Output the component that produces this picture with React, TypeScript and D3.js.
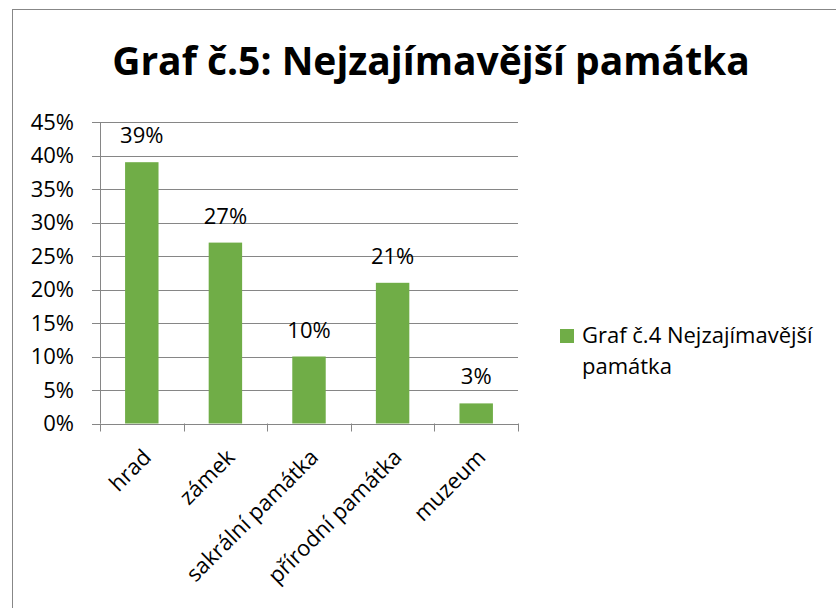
import React from 'react';
import * as d3 from 'd3';

const categories = ['hrad', 'zámek', 'sakrální památka', 'přírodní památka', 'muzeum'];
const values = [39, 27, 10, 21, 3];
const yTicks = [0, 5, 10, 15, 20, 25, 30, 35, 40, 45];
const title = 'Graf č.5: Nejzajímavější památka';
const seriesName = ['Graf č.4 Nejzajímavější', 'památka'];

const App = () => {
  const width = 836;
  const height = 608;
  const font = '"Open Sans", "Noto Sans", sans-serif';
  const green = '#70AD47';
  const grid = '#868686';

  // plot area
  const left = 100;
  const right = 518;
  const top = 122;
  const bottom = 423.5;

  const x = d3.scaleBand<string>()
    .domain(categories)
    .range([left, right])
    .paddingInner(0.6)
    .paddingOuter(0.3);

  const y = d3.scaleLinear().domain([0, 45]).range([bottom, top]);

  const step = x.step();
  const bw = x.bandwidth();
  const boundary = (i: number) => left + i * step;

  return (
    <svg width={width} height={height} style={{ position: 'absolute', left: 0, top: 0, background: '#fff' }}>
      <rect x={12.5} y={9.5} width={840} height={620} fill="#fff" stroke="#878787" strokeWidth={1} />

      <text x={431} y={75} textAnchor="middle" fontFamily={font} fontWeight="bold" fontSize={39} fill="#000">
        {title}
      </text>

      {/* gridlines + y labels */}
      {yTicks.map(t => (
        <g key={t}>
          <line x1={92} x2={right} y1={Math.round(y(t)) + 0.5} y2={Math.round(y(t)) + 0.5} stroke={grid} strokeWidth={1} />
          <text x={74} y={y(t)} dy="0.35em" textAnchor="end" fontFamily={font} fontSize={22} fill="#000">
            {t}%
          </text>
        </g>
      ))}

      {/* y axis line */}
      <line x1={left + 0.5} x2={left + 0.5} y1={y(45)} y2={bottom} stroke={grid} strokeWidth={1} />

      {/* x axis ticks */}
      {d3.range(categories.length + 1).map(i => (
        <line key={i} x1={Math.round(boundary(i)) + 0.5} x2={Math.round(boundary(i)) + 0.5} y1={bottom} y2={bottom + 8} stroke={grid} strokeWidth={1} />
      ))}

      {/* bars */}
      {categories.map((c, i) => (
        <rect key={c} x={x(c)} y={y(values[i])} width={bw} height={bottom - y(values[i])} fill={green} />
      ))}

      {/* data labels */}
      {categories.map((c, i) => (
        <text key={c} x={(x(c) as number) + bw / 2} y={y(values[i]) - 19} textAnchor="middle" fontFamily={font} fontSize={22} fill="#000">
          {values[i]}%
        </text>
      ))}

      {/* x labels */}
      {categories.map(c => {
        const cx = (x(c) as number) + bw / 2 - 1;
        return (
          <text key={c} transform={`translate(${cx},447) rotate(-45)`} dy="0.75em" textAnchor="end" fontFamily={font} fontSize={22} fill="#000">
            {c}
          </text>
        );
      })}

      {/* legend */}
      <rect x={560} y={329} width={14} height={14} fill={green} />
      <text x={582} y={343} fontFamily={font} fontSize={22} fill="#000">{seriesName[0]}</text>
      <text x={582} y={374} fontFamily={font} fontSize={22} fill="#000">{seriesName[1]}</text>
    </svg>
  );
};

export default App;
